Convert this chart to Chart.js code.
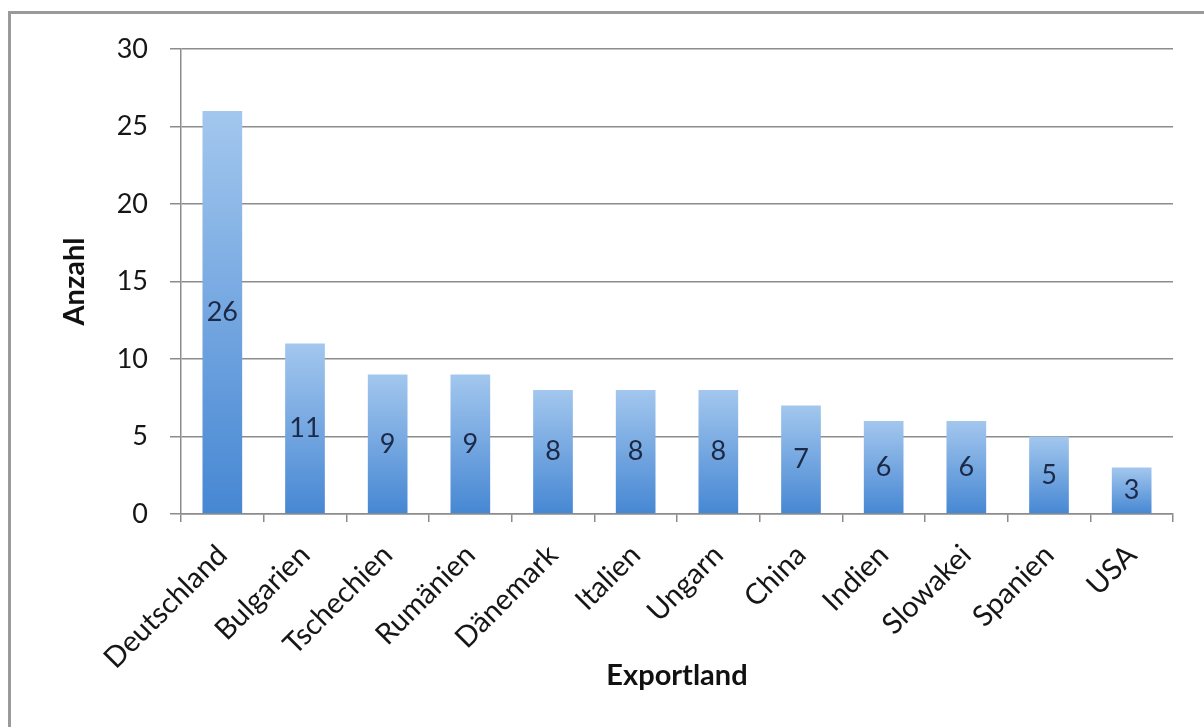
<!DOCTYPE html>
<html>
<head>
<meta charset="utf-8">
<script src="https://cdn.jsdelivr.net/npm/chart.js@4"></script>
<style>
  html, body { margin: 0; padding: 0; background: #fff; }
  #wrap { position: relative; width: 1204px; height: 727px; overflow: hidden; }
  #frame { position: absolute; left: 8px; top: 11px; width: 1300px; height: 800px;
           border-top: 3px solid #9a9a9a; border-left: 3px solid #9a9a9a; }
  #chart { position: absolute; left: 0; top: 0; }
</style>
</head>
<body>
<div id="wrap">
  <div id="frame"></div>
  <canvas id="chart" width="1204" height="727"></canvas>
</div>
<script>
const countries = ['Deutschland', 'Bulgarien', 'Tschechien', 'Rumänien', 'Dänemark', 'Italien',
                   'Ungarn', 'China', 'Indien', 'Slowakei', 'Spanien', 'USA'];
const counts = [26, 11, 9, 9, 8, 8, 8, 7, 6, 6, 5, 3];
const yTicks = [0, 5, 10, 15, 20, 25, 30];

const FONT = 'Lato, "Open Sans", sans-serif';

// gradient per bar, light at the top, darker at the base
function barFill(context) {
    const chart = context.chart;
    const area = chart.chartArea;
    if (!area || context.parsed === undefined) return '#6fa4e0';
    const y = chart.scales.y;
    const top = y.getPixelForValue(context.parsed.y);
    const bottom = y.getPixelForValue(0);
    const g = chart.ctx.createLinearGradient(0, top, 0, bottom);
    g.addColorStop(0, '#a3c7ee');
    g.addColorStop(1, '#4687d3');
    return g;
}

// value labels in the middle of each bar
const valueLabels = {
    id: 'valueLabels',
    afterDatasetsDraw(chart) {
        const ctx = chart.ctx;
        const meta = chart.getDatasetMeta(0);
        ctx.save();
        ctx.font = '27px ' + FONT;
        ctx.fillStyle = '#1c2a48';
        ctx.textAlign = 'center';
        ctx.textBaseline = 'middle';
        meta.data.forEach((bar, i) => {
            const mid = (bar.y + bar.base) / 2;
            ctx.fillText(String(counts[i]), bar.x, mid);
        });
        ctx.restore();
    }
};

const myChart = new Chart(document.getElementById('chart'), {
    type: 'bar',
    data: {
        labels: countries,
        datasets: [{
            data: counts,
            backgroundColor: barFill,
            borderWidth: 0,
            barPercentage: 0.48,
            categoryPercentage: 1
        }]
    },
    options: {
        responsive: false,
        animation: false,
        layout: { padding: { top: 49, right: 31, left: 0, bottom: 0 } },
        plugins: {
            legend: { display: false },
            tooltip: { enabled: false }
        },
        scales: {
            y: {
                min: 0,
                max: 30,
                afterBuildTicks: scale => { scale.ticks = yTicks.map(v => ({ value: v })); },
                afterFit: scale => { scale.width = 181; },
                grid: { color: '#8c8c8c', lineWidth: 1.5, tickLength: 11 },
                border: { color: '#8c8c8c', width: 1.5 },
                ticks: { color: '#161616', padding: 22, font: { family: FONT, size: 27 } },
                title: {
                    display: true,
                    text: 'Anzahl',
                    color: '#111',
                    font: { family: FONT, size: 29, weight: 'bold' },
                    padding: { top: 57, bottom: 0 }
                }
            },
            x: {
                afterFit: scale => { scale.height = 727 - 514; },
                grid: { display: true, drawOnChartArea: false, offset: true, color: '#8c8c8c', lineWidth: 1.5, tickLength: 8 },
                border: { color: '#8c8c8c', width: 1.5 },
                ticks: {
                    color: '#161616',
                    minRotation: 45,
                    maxRotation: 45,
                    padding: 16,
                    font: { family: FONT, size: 29 }
                },
                title: {
                    display: true,
                    text: 'Exportland',
                    color: '#111',
                    font: { family: FONT, size: 29, weight: 'bold' },
                    padding: { top: 0, bottom: 34 }
                }
            }
        }
    },
    plugins: [valueLabels]
});
</script>
</body>
</html>
